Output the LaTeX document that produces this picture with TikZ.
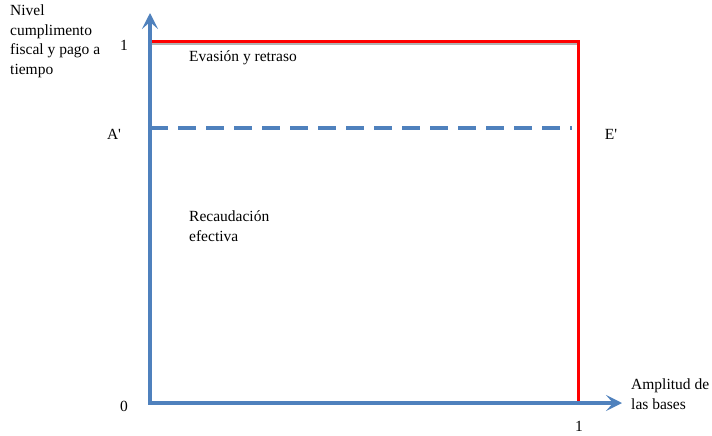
\documentclass[tikz,border=0pt]{standalone}
\usepackage{fontspec}
\setmainfont{Liberation Serif}[Ligatures=TeXOff]
\usetikzlibrary{arrows.meta}
\definecolor{axisblue}{RGB}{79,129,189}
\definecolor{redline}{RGB}{255,0,0}
\tikzset{
  axis/.style={draw=axisblue, line width=3.6pt, -{Stealth[length=16pt,width=16pt,inset=7pt]}},
  bound/.style={draw=redline, line width=3pt},
  dashline/.style={draw=axisblue, line width=3.6pt, dash pattern=on 18pt off 10pt},
  lbl/.style={font=\fontsize{15.5pt}{19.5pt}\selectfont, inner sep=0pt},
  txt/.style={font=\fontsize{15.5pt}{19.5pt}\selectfont, inner sep=0pt, anchor=north west, align=left}
}
\begin{document}
\begin{tikzpicture}[x=1pt,y=-1pt]
\useasboundingbox (0,0) rectangle (712,436);
\coordinate (O) at (150,403);
\coordinate (Ytip) at (150,13);
\coordinate (Xtip) at (622,403);
\coordinate (R1) at (150,42);
\coordinate (R2) at (578,42);
\coordinate (R3) at (578,403);
\coordinate (D1) at (150,128);
\coordinate (D2) at (572,128);
% shadows
\draw[gray!60, line width=2pt] ([shift={(0,2)}]R1) -- ([shift={(-1,2)}]R2);
% lines
\draw[bound] (R1) -- (R2) -- (R3);
\draw[dashline] (D1) -- (D2);
\draw[axis] (O) -- (Ytip);
\draw[axis] ([xshift=-1.8pt]O) -- (Xtip);
% labels
\node[txt] (ylab) at (10,5) {Nivel\\cumplimento\\fiscal y pago a\\tiempo};
\node[lbl] (one) at (124,45) {1};
\node[lbl] (aprime) at (114,134) {A'};
\node[lbl] (eprime) at (611,134) {E'};
\node[lbl] (zero) at (124,406) {0};
\node[lbl] (onex) at (579,426) {1};
\node[txt] (evasion) at (189,51) {Evasión y retraso};
\node[txt] (recaud) at (189,211) {Recaudación\\efectiva};
\node[txt] (xlab) at (631,379) {Amplitud de\\las bases};
\end{tikzpicture}
\end{document}
